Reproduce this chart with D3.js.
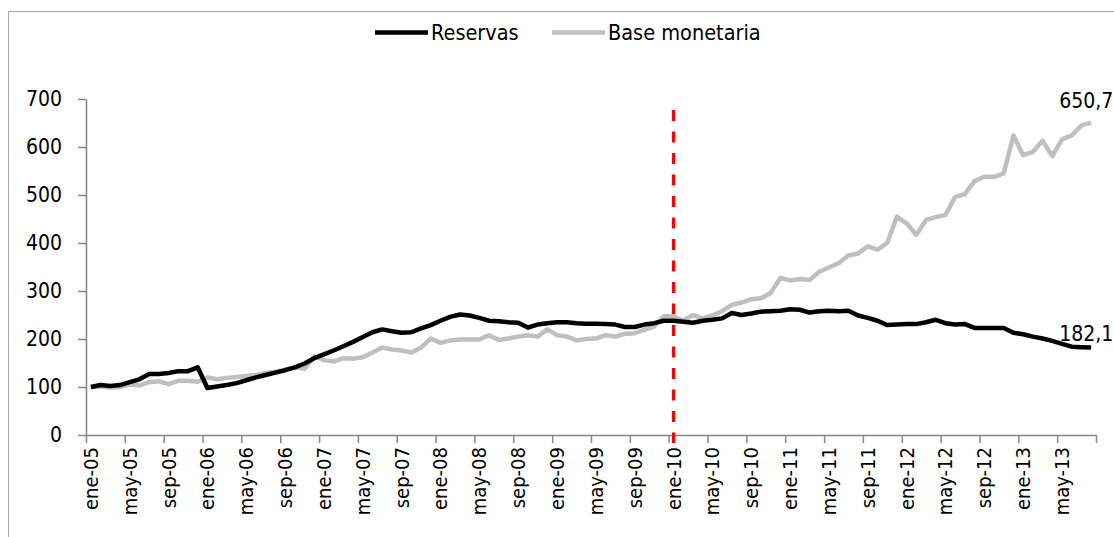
<!DOCTYPE html>
<html>
<head>
<meta charset="utf-8">
<script src="https://cdn.jsdelivr.net/npm/d3@7"></script>
<style>
    body { margin: 0; background: #fff; }
    #chart { width: 1114px; height: 537px; }
    text { font-family: "DejaVu Sans Condensed", "Liberation Sans Narrow", sans-serif; fill: #000; }
</style>
</head>
<body>
<div id="chart"></div>
<script>
// categorias: meses de ene-05 a ago-13
const monthNames = ["ene", "feb", "mar", "abr", "may", "jun", "jul", "ago", "sep", "oct", "nov", "dic"];
const years = ["05", "06", "07", "08", "09", "10", "11", "12", "13"];
const categories = [];
years.forEach(y => monthNames.forEach(m => categories.push(m + "-" + y)));
categories.splice(104);

// indice base 100 = ene-05
const reservas = [
    100, 104, 102, 104, 110, 116, 127, 127, 129, 133, 133, 141,
    98, 101, 104, 108, 114, 120, 125, 130, 135, 141, 149, 160,
    168, 176, 185, 194, 204, 214, 220, 216, 213, 214, 222, 229,
    238, 246, 251, 249, 244, 238, 237, 235, 234, 224, 230, 233,
    235, 235, 233, 232, 232, 231, 230, 225, 225, 230, 233, 238,
    238, 236, 234, 238, 240, 243, 254, 250, 253, 257, 258, 259,
    262, 261, 255, 258, 259, 258, 259, 249, 244, 238, 229, 230,
    231, 231, 235, 240, 233, 230, 231, 223, 223, 223, 223, 213,
    210, 205, 201, 196, 190, 184, 183, 182.1
];

const baseMonetaria = [
    100, 101, 99, 100, 105, 103, 110, 112, 106, 113, 113, 111,
    120, 116, 119, 121, 123, 125, 129, 132, 136, 141, 138, 164,
    156, 153, 160, 159, 162, 172, 182, 178, 176, 172, 182, 201,
    192, 197, 199, 199, 199, 208, 198, 201, 205, 208, 205, 220,
    208, 205, 197, 200, 201, 208, 205, 211, 212, 219, 226, 248,
    247, 238, 250, 243, 249, 258, 271, 276, 283, 285, 296, 327,
    322, 325, 323, 340, 349, 358, 374, 378, 393, 386, 400, 455,
    441, 417, 448, 454, 458, 496, 502, 529, 538, 538, 545, 624,
    583, 590, 613, 581, 616, 624, 645, 650.7
];

const yTicks = [0, 100, 200, 300, 400, 500, 600, 700];
const xTickLabels = ["ene-05", "may-05", "sep-05", "ene-06", "may-06", "sep-06", "ene-07", "may-07", "sep-07",
    "ene-08", "may-08", "sep-08", "ene-09", "may-09", "sep-09", "ene-10", "may-10", "sep-10",
    "ene-11", "may-11", "sep-11", "ene-12", "may-12", "sep-12", "ene-13", "may-13"];
const seriesNames = ["Reservas", "Base monetaria"];
const markerMonth = "ene-10";

class ReservesChart {
    constructor(parentElement) {
        this.parentElement = parentElement;
        this.initVis();
    }

    initVis() {
        let vis = this;

        vis.margin = {top: 99, right: 18, bottom: 102, left: 86};
        vis.totalW = 1114;
        vis.totalH = 537;
        vis.width = vis.totalW - vis.margin.left - vis.margin.right;
        vis.height = vis.totalH - vis.margin.top - vis.margin.bottom;

        vis.root = d3.select("#" + vis.parentElement).append("svg")
            .attr("width", vis.totalW)
            .attr("height", vis.totalH);

        // marco del grafico
        vis.root.append("rect")
            .attr("x", 8.5).attr("y", 11.5)
            .attr("width", 1120).attr("height", 560)
            .attr("fill", "none")
            .attr("stroke", "#a6a6a6")
            .attr("stroke-width", 1);

        vis.svg = vis.root.append("g")
            .attr("transform", `translate(${vis.margin.left},${vis.margin.top})`);

        vis.xIndex = d3.scaleLinear().domain([0, categories.length]).range([0, vis.width]);
        vis.xScale = d3.scaleBand().domain(categories).range([0, vis.width]).padding(0);
        vis.yScale = d3.scaleLinear().domain([0, 700]).range([vis.height, 0]);

        vis.drawAxes();
        vis.drawLines();
        vis.drawLegend();
    }

    drawAxes() {
        let vis = this;
        const axisColor = "#868686";

        let yAxis = vis.svg.append("g")
            .attr("class", "y axis")
            .call(d3.axisLeft(vis.yScale)
                .tickValues(yTicks)
                .tickSize(8)
                .tickSizeOuter(0)
                .tickPadding(16)
                .tickFormat(d3.format("d")));
        yAxis.selectAll("path, line").attr("stroke", axisColor).attr("stroke-width", 1.5);
        yAxis.selectAll("text").style("font-size", "21px")
            .style("font-family", "'DejaVu Sans Condensed', sans-serif");

        let tickIdx = d3.range(0, categories.length + 1, 4);
        let xAxis = vis.svg.append("g")
            .attr("class", "x axis")
            .attr("transform", `translate(0,${vis.height})`)
            .call(d3.axisBottom(vis.xIndex)
                .tickValues(tickIdx)
                .tickSize(8)
                .tickSizeOuter(0)
                .tickFormat(""));
        xAxis.selectAll("path, line").attr("stroke", axisColor).attr("stroke-width", 1.5);

        vis.svg.append("g")
            .selectAll("text")
            .data(xTickLabels)
            .join("text")
            .attr("transform", d => {
                let cx = vis.xScale(d) + vis.xScale.bandwidth() / 2;
                return `translate(${cx},${vis.height + 12}) rotate(-90)`;
            })
            .attr("text-anchor", "end")
            .attr("dy", "0.35em")
            .style("font-size", "20px")
            .text(d => d);
    }

    drawLines() {
        let vis = this;

        vis.line = d3.line()
            .x((d, i) => vis.xScale(categories[i]) + vis.xScale.bandwidth() / 2)
            .y(d => vis.yScale(d));

        // linea vertical en ene-10
        let mx = vis.xScale(markerMonth) + vis.xScale.bandwidth() / 2;
        vis.svg.append("line")
            .attr("x1", mx).attr("x2", mx)
            .attr("y1", vis.yScale(677)).attr("y2", vis.yScale(0) + 8)
            .attr("stroke", "#ff0000")
            .attr("stroke-width", 3.3)
            .attr("stroke-dasharray", "11,10.5");

        vis.svg.append("path")
            .datum(baseMonetaria)
            .attr("fill", "none")
            .attr("stroke", "#bfbfbf")
            .attr("stroke-width", 4.5)
            .attr("stroke-linejoin", "round")
            .attr("d", vis.line);

        vis.svg.append("path")
            .datum(reservas)
            .attr("fill", "none")
            .attr("stroke", "#000")
            .attr("stroke-width", 4.5)
            .attr("stroke-linejoin", "round")
            .attr("d", vis.line);

        // etiquetas del ultimo dato
        let last = categories.length - 1;
        let lx = vis.xScale(categories[last]) + vis.xScale.bandwidth() / 2;
        let fmt = v => d3.format(".1f")(v).replace(".", ",");

        vis.svg.append("text")
            .attr("x", lx - 32)
            .attr("y", vis.yScale(baseMonetaria[last]) - 22)
            .attr("dy", "0.35em")
            .style("font-size", "21px")
            .text(fmt(baseMonetaria[last]));

        vis.svg.append("text")
            .attr("x", lx - 32)
            .attr("y", vis.yScale(reservas[last]) - 14)
            .attr("dy", "0.35em")
            .style("font-size", "21px")
            .text(fmt(reservas[last]));
    }

    drawLegend() {
        let vis = this;
        let items = [
            {name: seriesNames[0], color: "#000", x: 375},
            {name: seriesNames[1], color: "#bfbfbf", x: 552}
        ];
        let lg = vis.root.append("g").attr("class", "legend");
        items.forEach(it => {
            lg.append("line")
                .attr("x1", it.x).attr("x2", it.x + 53)
                .attr("y1", 32.5).attr("y2", 32.5)
                .attr("stroke", it.color)
                .attr("stroke-width", 4.5);
            lg.append("text")
                .attr("x", it.x + 56)
                .attr("y", 32.5)
                .attr("dy", "0.35em")
                .style("font-size", "21.5px")
                .text(it.name);
        });
    }
}

new ReservesChart("chart");
</script>
</body>
</html>
